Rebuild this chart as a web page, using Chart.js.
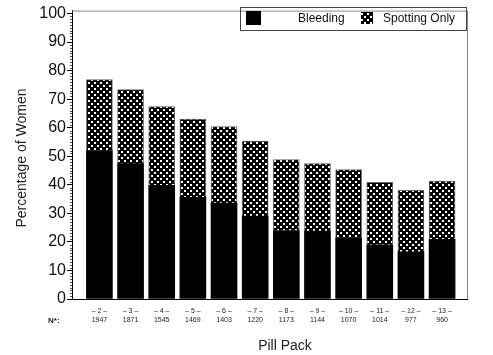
<!DOCTYPE html>
<html>
<head>
<meta charset="utf-8">
<script src="https://cdn.jsdelivr.net/npm/chart.js@4/dist/chart.umd.min.js"></script>
<style>
html,body{margin:0;padding:0;background:#fff;}
#wrap{width:493px;height:355px;position:relative;}
</style>
</head>
<body>
<div id="wrap"><canvas id="c" width="493" height="355"></canvas></div>
<script>
const packs = ['2','3','4','5','6','7','8','9','10','11','12','13'];
const nWomen = [1947,1871,1545,1469,1403,1220,1173,1144,1070,1014,977,960];
const bleeding = [52, 47.4, 39.8, 35.6, 33.6, 29, 24, 23.8, 21.5, 19, 16.5, 20.9];
const spotting = [24.8, 25.9, 27.6, 27.4, 26.8, 26.3, 24.8, 23.6, 23.8, 21.9, 21.6, 20.4];
const yTicks = [0,10,20,30,40,50,60,70,80,90,100];

const FONT = '"Liberation Sans", Arial, sans-serif';

function makePattern(){
  const N = 6;
  const c = document.createElement('canvas');
  c.width = N; c.height = N;
  const g = c.getContext('2d');
  g.fillStyle = '#000'; g.fillRect(0,0,N,N);
  g.fillStyle = '#fff';
  g.fillRect(1,1,2,2);
  g.fillRect(4,4,2,2);
  return document.getElementById('c').getContext('2d').createPattern(c,'repeat');
}
const pattern = makePattern();

const decor = {
  id: 'decor',
  afterDraw(chart){
    const ctx = chart.ctx, a = chart.chartArea, ys = chart.scales.y;
    ctx.save();
    ctx.strokeStyle = '#888'; ctx.lineWidth = 1;
    ctx.beginPath();
    ctx.moveTo(a.left, a.top+0.5); ctx.lineTo(a.right+0.5, a.top+0.5);
    ctx.lineTo(a.right+0.5, a.bottom);
    ctx.stroke();
    ctx.strokeStyle = '#555';
    ctx.beginPath();
    for (let v=0; v<=100; v++){
      if (v%10===0) continue;
      const py = Math.round(ys.getPixelForValue(v))+0.5;
      ctx.moveTo(a.left-2, py); ctx.lineTo(a.left, py);
    }
    ctx.stroke();
    ctx.fillStyle = '#222';
    ctx.font = '14px ' + FONT;
    ctx.textAlign = 'center'; ctx.textBaseline = 'middle';
    ctx.save();
    ctx.translate(22, 158); ctx.rotate(-Math.PI/2);
    ctx.fillText('Percentage of Women', 0, 0);
    ctx.restore();
    ctx.font = '14px ' + FONT;
    ctx.fillText('Pill Pack', 285, 346);
    ctx.font = 'bold 8px ' + FONT;
    ctx.textAlign = 'left';
    ctx.fillText('N*:', 48, 321);
    const lx = 240, ly = 7, lw = 226, lh = 23;
    ctx.strokeStyle = '#444';
    ctx.strokeRect(lx+0.5, ly+0.5, lw, lh);
    ctx.fillStyle = '#000';
    ctx.fillRect(246, 11, 15, 14);
    ctx.fillStyle = pattern;
    ctx.fillRect(361, 12, 12, 12);
    ctx.fillStyle = '#111';
    ctx.font = '12px ' + FONT;
    ctx.textBaseline = 'middle';
    ctx.fillText('Bleeding', 298, 19);
    ctx.fillText('Spotting Only', 383, 19);
    ctx.restore();
  }
};

new Chart(document.getElementById('c'), {
  type: 'bar',
  data: {
    datasets: [
      { label: 'Bleeding', data: packs.map((p,i)=>({x:i+1, y:bleeding[i]})), backgroundColor: '#000', borderColor: '#000', borderWidth: 0 },
      { label: 'Spotting Only', data: packs.map((p,i)=>({x:i+1, y:spotting[i]})), backgroundColor: pattern, borderColor: '#666', borderWidth: 1 }
    ]
  },
  plugins: [decor],
  options: {
    responsive: false,
    animation: false,
    barThickness: 26,
    layout: { padding: { top: 3, right: 26, left: 0, bottom: 0 } },
    plugins: { legend: { display: false }, tooltip: { enabled: false } },
    scales: {
      x: {
        type: 'linear', stacked: true, offset: false, min: 0.12, max: 12.8,
        afterFit(s){ s.height = 56; },
        grid: { display: false, drawTicks: false, offset: false },
        border: { display: true, color: '#000', width: 1 },
        afterBuildTicks(s){ s.ticks = packs.map((p,i)=>({value:i+1})); },
        ticks: {
          autoSkip: false, maxRotation: 0, padding: 7,
          color: '#222',
          font: { size: 7, family: FONT, lineHeight: 1.35 },
          callback(v){ const i = Math.round(v)-1; return ['– '+packs[i]+' –', String(nWomen[i])]; }
        }
      },
      y: {
        stacked: true, min: 0, max: 101,
        afterFit(s){ s.width = 72; },
        afterBuildTicks(s){ s.ticks = yTicks.map(v=>({value:v})); },
        grid: { drawOnChartArea: false, drawTicks: true, tickLength: 5, color: '#000' },
        border: { display: true, color: '#000', width: 1 },
        ticks: { padding: 1, color: '#111', font: { size: 16, family: FONT } }
      }
    }
  }
});
</script>
</body>
</html>
